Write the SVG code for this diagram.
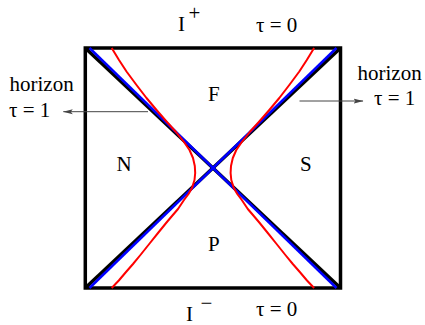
<svg xmlns="http://www.w3.org/2000/svg" width="425" height="325" viewBox="0 0 425 325">
<style>
.t{font-family:'Liberation Serif','Times New Roman',serif;font-size:21px;fill:#000}
.diag{stroke:#000;stroke-width:3.5;fill:none}
.blue{stroke:#0000ff;stroke-width:2.5;fill:none}
.red{stroke:#ff0000;stroke-width:2;fill:none;stroke-linejoin:round}
.arr{stroke:#444;stroke-width:1;fill:none}
</style>
<defs>
<marker id="ah" viewBox="0 0 10 6" refX="9.5" refY="3" markerWidth="10" markerHeight="6" markerUnits="userSpaceOnUse" orient="auto">
<path d="M0,0.5 L10,3 L0,5.5 L2,3 Z" fill="#444"/>
</marker>
</defs>
<rect id="square" x="85.3" y="48" width="255.2" height="240" fill="none" stroke="#000" stroke-width="3.5"/>
<g id="connectors">
<line class="diag" x1="85.3" y1="48" x2="340.5" y2="288"/>
<line class="diag" x1="340.5" y1="48" x2="85.3" y2="288"/>
<line class="blue" x1="89.5" y1="48" x2="336.5" y2="288"/>
<line class="blue" x1="336.5" y1="48" x2="89.5" y2="288"/>
<path class="red" d="M111.7,48 L119,60 L126.5,71.5 L136.5,85 L146.5,98 L156.5,110 L166.5,121.5 L176,132 L184,142 L189.5,150 L193,158 L194.8,166 L195.2,173 L194.5,180 L192,188 L188.5,194 L184,200 L178,209 L172,216 L166.5,222.5 L158,233 L150,243 L140,255.5 L133,264 L126,272 L118.8,280.5 L111.7,288"/>
<path class="red" d="M314.1,48 L306.8,60 L299.3,71.5 L289.3,85 L279.3,98 L269.3,110 L259.3,121.5 L249.8,132 L241.8,142 L236.3,150 L232.8,158 L231,166 L230.6,173 L231.3,180 L233.8,188 L237.3,194 L241.8,200 L247.8,209 L253.8,216 L259.3,222.5 L267.8,233 L275.8,243 L285.8,255.5 L292.8,264 L299.8,272 L307,280.5 L314.1,288"/>
<line class="arr" x1="148" y1="111.7" x2="63.3" y2="111.7" marker-end="url(#ah)"/>
<line class="arr" x1="299.5" y1="101" x2="363" y2="101" marker-end="url(#ah)"/>
</g>
<g font-family="Liberation Serif, Times New Roman, serif" font-size="21">
<g id="label-Iplus"><text class="t" x="178" y="31">I</text><text class="t" x="188.5" y="20">+</text></g>
<g id="label-tau0-top"><text class="t" x="256" y="31.5">τ = 0</text></g>
<g id="label-Iminus"><text class="t" x="186" y="321">I</text><text class="t" x="200.5" y="310">−</text></g>
<g id="label-tau0-bottom"><text class="t" x="256" y="315.5">τ = 0</text></g>
<g id="label-horizon-left"><text class="t" x="9.5" y="90.5">horizon</text><text class="t" x="9" y="117">τ = 1</text></g>
<g id="label-horizon-right"><text class="t" x="357.5" y="79.5">horizon</text><text class="t" x="374" y="105">τ = 1</text></g>
<g id="region-F"><text class="t" x="208" y="101">F</text></g>
<g id="region-N"><text class="t" x="116.5" y="171">N</text></g>
<g id="region-S"><text class="t" x="300" y="171">S</text></g>
<g id="region-P"><text class="t" x="208" y="251">P</text></g>
</g>
</svg>
